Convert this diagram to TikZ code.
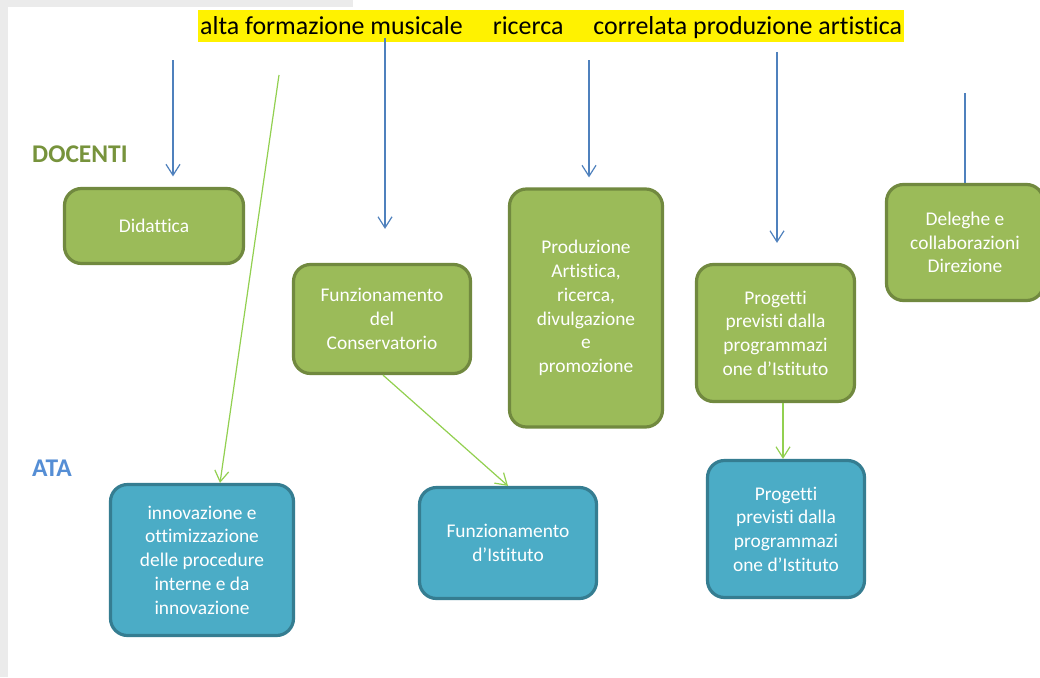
\documentclass[tikz,border=0pt]{standalone}
\usepackage{fontspec}
\setmainfont{Carlito}[Ligatures=NoCommon]
\usetikzlibrary{arrows.meta}
\definecolor{gfill}{HTML}{9BBB59}
\definecolor{gdraw}{HTML}{71893F}
\definecolor{bfill}{HTML}{4BACC6}
\definecolor{bdraw}{HTML}{357D91}
\definecolor{barrowc}{HTML}{4F81BD}
\definecolor{garrowc}{HTML}{92D050}
\definecolor{docc}{HTML}{77933C}
\definecolor{atac}{HTML}{558ED5}
\definecolor{framec}{HTML}{EBEBEB}
\begin{document}
\begin{tikzpicture}[x=1pt,y=-1pt,
 box/.style={rounded corners=17pt, line width=3.2pt, text=white, align=center,
   font=\fontsize{19.4}{23.7}\selectfont, inner sep=0pt},
 gbox/.style={box, fill=gfill, draw=gdraw},
 bbox/.style={box, fill=bfill, draw=bdraw},
 blueline/.style={draw=barrowc, line width=1.2pt},
 bluearrow/.style={blueline, -{Straight Barb[length=11pt,width=14pt]}},
 greenarrow/.style={draw=garrowc, line width=1.2pt, -{Straight Barb[length=11pt,width=14pt]}},
 rowlabel/.style={anchor=base west, inner sep=0pt, font=\fontsize{25.5}{30}\selectfont\bfseries},
]
\useasboundingbox (0,0) rectangle (1040,677);
\fill[white] (0,0) rectangle (1040,677);
\fill[framec] (0,0) rectangle (353,7);
\fill[framec] (0,0) rectangle (8,677);

% heading
\node[fill=yellow, anchor=base west, inner xsep=2pt, inner ysep=0pt,
      text height=24.3pt, text depth=7.7pt, font=\fontsize{25.9}{31}\selectfont] (head) at (198,34.3)
  {alta formazione musicale\hspace{30pt}ricerca\hspace{30pt}correlata produzione artistica};

% row labels
\node[rowlabel, text=docc] (docenti) at (32,162) {DOCENTI};
\node[rowlabel, text=atac] (ata) at (32,476.5) {ATA};

% DOCENTI boxes
\node[gbox, minimum width=179pt, minimum height=75pt] (did) at (154,226) {Didattica};
\node[gbox, minimum width=177pt, minimum height=109pt] (funz) at (382,319) {Funzionamento\\del\\Conservatorio};
\node[gbox, minimum width=153pt, minimum height=238pt] (prod) at (586,308) {Produzione\\Artistica,\\ricerca,\\divulgazione\\e\\promozione};
\node[gbox, minimum width=158pt, minimum height=137pt] (pg) at (775.5,333) {Progetti\\previsti dalla\\programmazi\\one d’Istituto};
\node[gbox, minimum width=157pt, minimum height=116pt] (del) at (965,242.5) {Deleghe e\\collaborazioni\\Direzione};

% ATA boxes
\node[bbox, minimum width=183pt, minimum height=151pt] (inn) at (202,560) {innovazione e\\ottimizzazione\\delle procedure\\interne e da\\innovazione};
\node[bbox, minimum width=177pt, minimum height=111pt] (fi) at (508,543) {Funzionamento\\d’Istituto};
\node[bbox, minimum width=157pt, minimum height=137pt] (pb) at (786,529) {Progetti\\previsti dalla\\programmazi\\one d’Istituto};

% blue arrows
\coordinate (s1) at (173,60);
\coordinate (s2) at (385,38);
\coordinate (s3) at (589,60);
\coordinate (s4) at (777,52);
\coordinate (s5) at (965,93);
\draw[bluearrow, shorten >=10.5pt] (s1) -- (s1 |- did.north);
\draw[bluearrow, shorten >=34pt] (s2) -- (s2 |- funz.north);
\draw[bluearrow, shorten >=10pt] (s3) -- (s3 |- prod.north);
\draw[bluearrow, shorten >=20pt] (s4) -- (s4 |- pg.north);
\draw[blueline] (s5) -- (del.north);

% green arrows
\coordinate (g1) at (279,75);
\draw[greenarrow] (g1) -- ([xshift=18pt]inn.north);
\draw[greenarrow] ([xshift=1pt]funz.south) -- (fi.north);
\draw[greenarrow] ([xshift=7.5pt]pg.south) -- ([xshift=-3pt]pb.north);
\end{tikzpicture}
\end{document}
